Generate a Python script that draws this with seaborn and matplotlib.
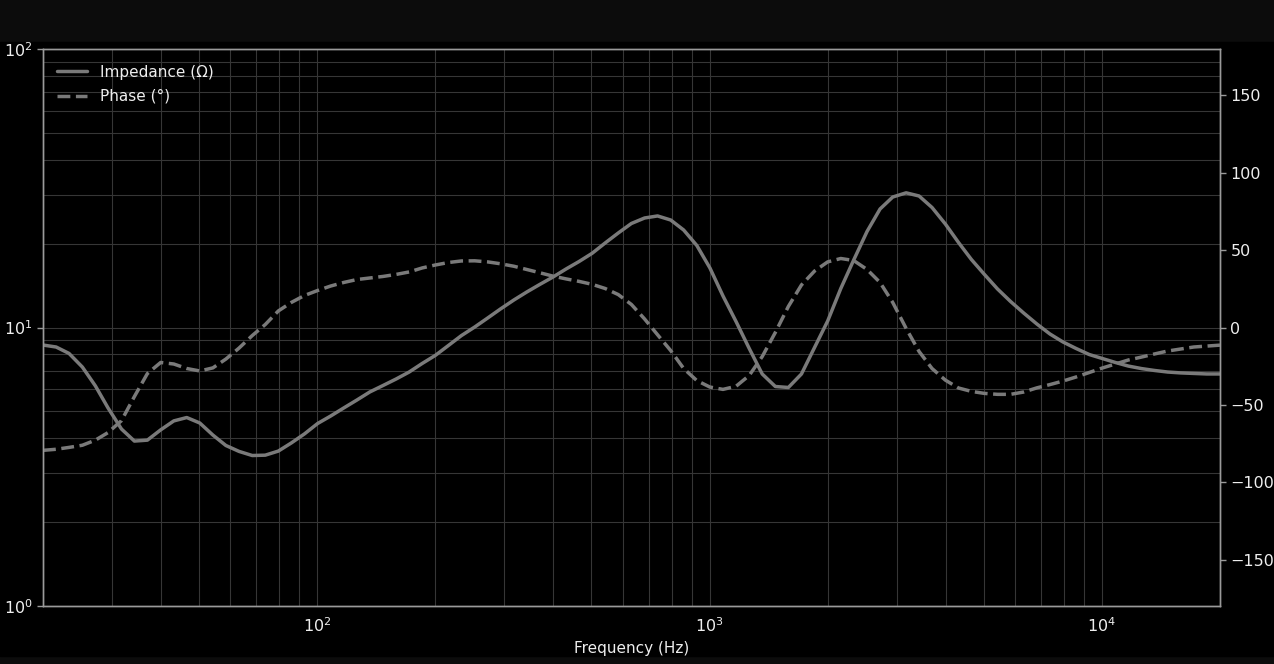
import numpy as np
import pandas as pd
import matplotlib
matplotlib.use("Agg")
import matplotlib.pyplot as plt
from matplotlib.lines import Line2D
from matplotlib.patches import Rectangle
import seaborn as sns

# frequency grid (Hz), about 30 readings per decade
freq = [20, 21.6, 23.3, 25.2, 27.2, 29.3, 31.7, 34.2, 36.9, 39.9,
        43.1, 46.5, 50.2, 54.2, 58.5, 63.2, 68.3, 73.7, 79.6, 85.9,
        92.8, 100.2, 108.2, 116.8, 126.2, 136.2, 147.1, 158.8, 171.5, 185.2,
        200, 216, 233, 252, 272, 293, 317, 342, 369, 399,
        431, 465, 502, 542, 585, 632, 683, 737, 796, 859,
        928, 1002, 1082, 1168, 1262, 1362, 1471, 1588, 1715, 1852,
        2000, 2160, 2330, 2520, 2720, 2930, 3170, 3420, 3690, 3990,
        4310, 4650, 5020, 5420, 5850, 6320, 6830, 7370, 7960, 8590,
        9280, 10020, 10820, 11680, 12620, 13620, 14710, 15880, 17150, 18520,
        20000]

impedance = [8.65, 8.51, 8.07, 7.21, 6.17, 5.14, 4.32, 3.91, 3.94, 4.29,
             4.62, 4.75, 4.54, 4.11, 3.77, 3.59, 3.47, 3.48, 3.60, 3.85,
             4.15, 4.52, 4.81, 5.14, 5.49, 5.87, 6.19, 6.53, 6.92, 7.43,
             7.94, 8.62, 9.35, 10.04, 10.82, 11.65, 12.55, 13.41, 14.27, 15.18,
             16.23, 17.26, 18.47, 20.12, 21.84, 23.63, 24.73, 25.15, 24.32, 22.39,
             19.70, 16.36, 12.98, 10.51, 8.41, 6.81, 6.14, 6.09, 6.81, 8.48,
             10.55, 13.80, 17.47, 22.12, 26.64, 29.41, 30.45, 29.66, 26.97, 23.53,
             20.20, 17.54, 15.50, 13.75, 12.40, 11.27, 10.29, 9.48, 8.87, 8.41,
             8.00, 7.74, 7.49, 7.27, 7.12, 7.01, 6.92, 6.87, 6.84, 6.81,
             6.81]

phase = [-79.4, -78.7, -77.5, -76.1, -72.8, -67.9, -60.2, -44.6, -29.8, -22.6,
         -23.6, -26.5, -28.1, -26.1, -20.4, -13.3, -5.2, 1.9, 10.7, 16.2,
         20.7, 23.9, 26.8, 29.1, 31.0, 32.0, 33.0, 34.3, 35.9, 38.5,
         40.4, 42.0, 43.0, 43.1, 42.4, 41.2, 39.6, 37.5, 35.4, 33.2,
         31.4, 29.8, 27.9, 25.2, 21.3, 14.9, 5.5, -4.7, -14.9, -26.5,
         -34.3, -38.5, -40.0, -38.0, -31.0, -18.8, -3.2, 13.6, 27.5, 36.5,
         42.4, 44.6, 43.3, 37.5, 29.1, 16.2, -0.6, -15.5, -26.5, -34.0,
         -39.1, -41.3, -42.6, -43.2, -43.2, -41.7, -39.0, -36.9, -34.6, -32.0,
         -29.1, -26.2, -23.6, -21.0, -19.1, -17.1, -15.2, -13.9, -12.6, -12.0,
         -11.4]

phase_ticks = [-150, -100, -50, 0, 50, 100, 150]
labels = ["Impedance (Ω)", "Phase (°)"]

df = pd.DataFrame({"freq": freq, "impedance": impedance, "phase": phase})

sns.set_theme(style="dark")
plt.rcParams["font.family"] = ["DejaVu Sans"]

line_col = "#7a7a7a"
text_col = "#eeeeee"
spine_col = "#9a9a9a"
grid_col = "#363636"
lw = 2.5

fig = plt.figure(figsize=(12.74, 6.64), dpi=100, facecolor="#0c0c0c")
# black panel, thin darker bands top and bottom as in the screenshot
fig.patches.append(Rectangle((0, 8 / 664), 1, (664 - 42 - 8) / 664,
                             transform=fig.transFigure, color="black", zorder=-10))

ax = fig.add_axes([43 / 1274, 1 - 606 / 664, (1220 - 43) / 1274, (606 - 49) / 664])
ax.set_facecolor("black")
ax2 = ax.twinx()

sns.lineplot(data=df, x="freq", y="impedance", ax=ax, color=line_col, lw=lw)
sns.lineplot(data=df, x="freq", y="phase", ax=ax2, color=line_col, lw=lw,
             linestyle="--")

ax.set_xscale("log")
ax.set_yscale("log")
ax.set_xlim(20, 20000)
ax.set_ylim(1, 100)
ax2.set_ylim(-180, 180)
ax2.set_yticks(phase_ticks)

ax.grid(True, which="both", axis="both", color=grid_col, lw=0.8)
ax2.grid(False)

ax.set_xlabel("Frequency (Hz)", color=text_col, fontsize=11, labelpad=4)
ax.set_ylabel("")
ax2.set_ylabel("")

for a in (ax, ax2):
    a.tick_params(which="major", colors=spine_col, labelcolor=text_col,
                  labelsize=11.5, length=4, width=1)
    a.tick_params(which="minor", length=0)
    for s in a.spines.values():
        s.set_color(spine_col)
        s.set_linewidth(1.0)

handles = [Line2D([], [], color=line_col, lw=lw),
           Line2D([], [], color=line_col, lw=lw, linestyle="--")]
ax2.legend(handles, labels, loc="upper left", bbox_to_anchor=(0.0, 0.9964),
           frameon=False, fontsize=11, labelcolor=text_col,
           borderaxespad=0.5, handlelength=2.0, labelspacing=0.6)

fig.savefig("out.png", dpi=100, facecolor=fig.get_facecolor())
